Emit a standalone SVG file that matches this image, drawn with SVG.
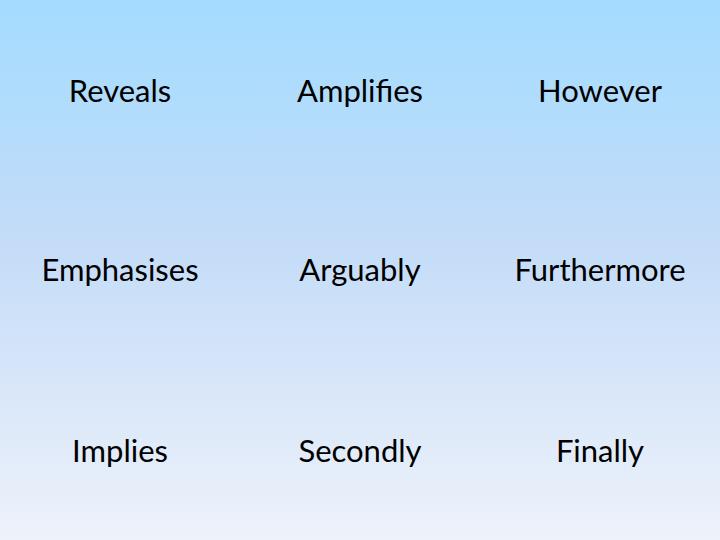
<svg xmlns="http://www.w3.org/2000/svg" width="720" height="540" viewBox="0 0 720 540">
<defs>
<linearGradient id="bg" x1="0" y1="0" x2="0" y2="1">
<stop offset="0" stop-color="#a3dcff"/>
<stop offset="0.45" stop-color="#c4dcf8"/>
<stop offset="1" stop-color="#eef2fa"/>
</linearGradient>
<style>text{font-family:Lato,"Open Sans",sans-serif;font-size:31px;fill:#000;text-anchor:middle}</style>
</defs>
<rect width="720" height="540" fill="url(#bg)"/>
<g id="n1"><text x="120" y="102">Reveals</text></g>
<g id="n2"><text x="360" y="102">Amplifies</text></g>
<g id="n3"><text x="600" y="102">However</text></g>
<g id="n4"><text x="120" y="281">Emphasises</text></g>
<g id="n5"><text x="360" y="281">Arguably</text></g>
<g id="n6"><text x="600" y="281">Furthermore</text></g>
<g id="n7"><text x="120" y="462">Implies</text></g>
<g id="n8"><text x="360" y="462">Secondly</text></g>
<g id="n9"><text x="600" y="462">Finally</text></g>
<g id="connectors"/>
</svg>
